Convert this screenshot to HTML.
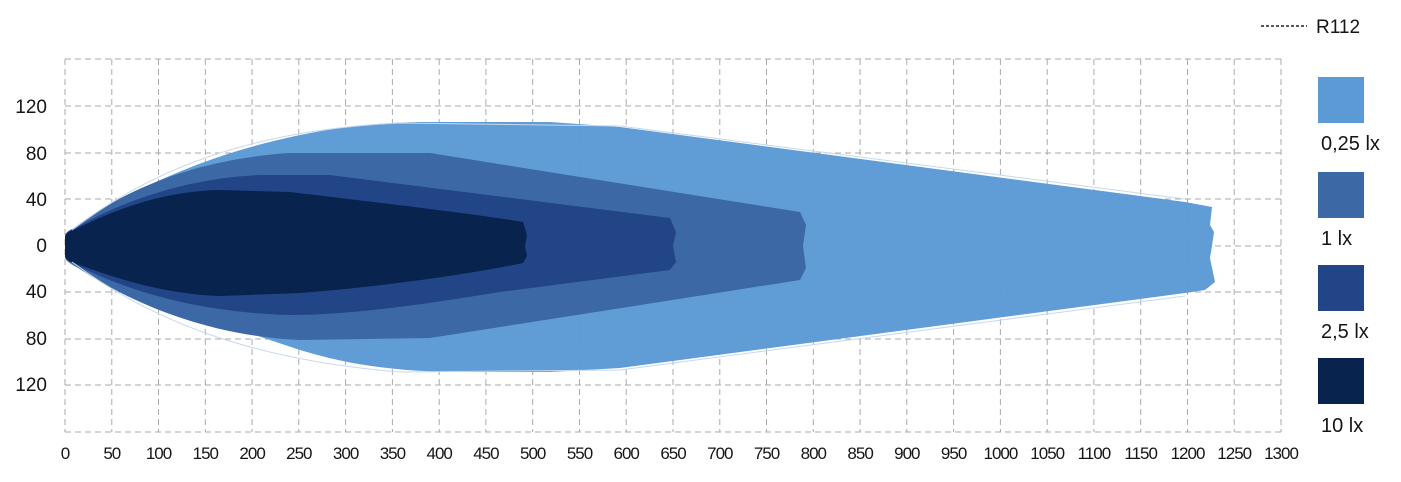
<!DOCTYPE html><html><head><meta charset="utf-8"><style>body{margin:0;background:#fff}svg{display:block}text{font-family:"Liberation Sans",sans-serif;fill:#151515}</style></head><body>
<svg width="1401" height="482" viewBox="0 0 1401 482">
<g stroke="#aaa" stroke-dasharray="6,4" stroke-width="1">
<line x1="65" y1="59" x2="1281" y2="59"/><line x1="65" y1="106" x2="1281" y2="106"/><line x1="65" y1="153" x2="1281" y2="153"/><line x1="65" y1="199" x2="1281" y2="199"/><line x1="65" y1="246" x2="1281" y2="246"/><line x1="65" y1="292" x2="1281" y2="292"/><line x1="65" y1="339" x2="1281" y2="339"/><line x1="65" y1="385" x2="1281" y2="385"/><line x1="65" y1="432" x2="1281" y2="432"/>
</g>
<g stroke="#aaa" stroke-dasharray="6,4">
<line x1="65" y1="59" x2="65" y2="432"/><line x1="111.8" y1="59" x2="111.8" y2="432"/><line x1="158.5" y1="59" x2="158.5" y2="432"/><line x1="205.3" y1="59" x2="205.3" y2="432"/><line x1="252.1" y1="59" x2="252.1" y2="432"/><line x1="298.8" y1="59" x2="298.8" y2="432"/><line x1="345.6" y1="59" x2="345.6" y2="432"/><line x1="392.4" y1="59" x2="392.4" y2="432"/><line x1="439.2" y1="59" x2="439.2" y2="432"/><line x1="485.9" y1="59" x2="485.9" y2="432"/><line x1="532.7" y1="59" x2="532.7" y2="432"/><line x1="579.5" y1="59" x2="579.5" y2="432"/><line x1="626.2" y1="59" x2="626.2" y2="432"/><line x1="673" y1="59" x2="673" y2="432"/><line x1="719.8" y1="59" x2="719.8" y2="432"/><line x1="766.5" y1="59" x2="766.5" y2="432"/><line x1="813.3" y1="59" x2="813.3" y2="432"/><line x1="860.1" y1="59" x2="860.1" y2="432"/><line x1="906.8" y1="59" x2="906.8" y2="432"/><line x1="953.6" y1="59" x2="953.6" y2="432"/><line x1="1000.4" y1="59" x2="1000.4" y2="432"/><line x1="1047.2" y1="59" x2="1047.2" y2="432"/><line x1="1093.9" y1="59" x2="1093.9" y2="432"/><line x1="1140.7" y1="59" x2="1140.7" y2="432"/><line x1="1187.5" y1="59" x2="1187.5" y2="432"/><line x1="1234.2" y1="59" x2="1234.2" y2="432"/><line x1="1281" y1="59" x2="1281" y2="432"/>
</g>
<path d="M65,236 C66,232 70,230 74,228 C110,205 180,160 300,135 C350,125 380,123 420,122 L550,122 L620,127 L1185,202 L1212,207 L1210,225 L1214,232 L1212,246 L1210,258 L1215,282 L1205,290 L1185,293 L620,368 L550,372 L445,372 C380,370 340,362 300,350 C180,310 110,285 74,266 C69,263 65,260 65,256 Z" fill="#5b9ad5" opacity="0.97"/>
<path d="M65,236 C66,232 70,230 74,228 C110,200 180,160 290,153 L430,153 L800,212 L806,225 L803,246 L806,268 L800,280 L430,338 L300,340 C190,335 110,290 74,265 C69,262 65,260 65,256 Z" fill="#3c69a6"/>
<path d="M65,236 C66,232 70,230 74,229 C110,207 180,178 260,175 L330,175 L670,218 L676,232 L673,246 L676,262 L670,270 L500,292 C420,305 350,315 290,315 C180,312 110,282 74,264 C69,262 65,260 65,256 Z" fill="#224588"/>
<path d="M65,237 C66,233 70,231 74,230 C110,212 160,191 220,190 L290,192 C400,205 480,215 523,222 L527,235 L525,246 L527,256 L523,263 C480,272 400,285 300,293 L220,296 C160,294 110,276 74,263 C69,261 65,259 65,255 Z" fill="#08234d"/>
<path d="M72,230 C150,170 250,130 400,123 L620,126 L1185,199" fill="none" stroke="#c6d8ee" stroke-width="1"/>
<path d="M72,262 C150,320 250,360 400,372 L620,370 L1185,296" fill="none" stroke="#c6d8ee" stroke-width="1"/>
<g font-size="19" text-anchor="end">
<text x="47" y="113">120</text><text x="47" y="160">80</text><text x="47" y="206">40</text><text x="47" y="252">0</text><text x="47" y="298">40</text><text x="47" y="345">80</text><text x="47" y="391">120</text>
</g>
<g font-size="17" text-anchor="middle" letter-spacing="-1">
<text x="65" y="459">0</text><text x="111.8" y="459">50</text><text x="158.5" y="459">100</text><text x="205.3" y="459">150</text><text x="252.1" y="459">200</text><text x="298.8" y="459">250</text><text x="345.6" y="459">300</text><text x="392.4" y="459">350</text><text x="439.2" y="459">400</text><text x="485.9" y="459">450</text><text x="532.7" y="459">500</text><text x="579.5" y="459">550</text><text x="626.2" y="459">600</text><text x="673" y="459">650</text><text x="719.8" y="459">700</text><text x="766.5" y="459">750</text><text x="813.3" y="459">800</text><text x="860.1" y="459">850</text><text x="906.8" y="459">900</text><text x="953.6" y="459">950</text><text x="1000.4" y="459">1000</text><text x="1047.2" y="459">1050</text><text x="1093.9" y="459">1100</text><text x="1140.7" y="459">1150</text><text x="1187.5" y="459">1200</text><text x="1234.2" y="459">1250</text><text x="1281" y="459">1300</text>
</g>
<line x1="1261" y1="26" x2="1307" y2="26" stroke="#222" stroke-dasharray="3,2" stroke-width="1.5"/>
<text x="1316" y="33" font-size="19">R112</text>
<rect x="1318" y="77" width="46" height="46" fill="#5b9ad5"/>
<rect x="1318" y="172" width="46" height="46" fill="#3c69a6"/>
<rect x="1318" y="265" width="46" height="46" fill="#224588"/>
<rect x="1318" y="358" width="46" height="46" fill="#08234d"/>
<g font-size="20"><text x="1321" y="150">0,25 lx</text><text x="1321" y="245">1 lx</text><text x="1321" y="338">2,5 lx</text><text x="1321" y="432">10 lx</text></g>
</svg></body></html>
